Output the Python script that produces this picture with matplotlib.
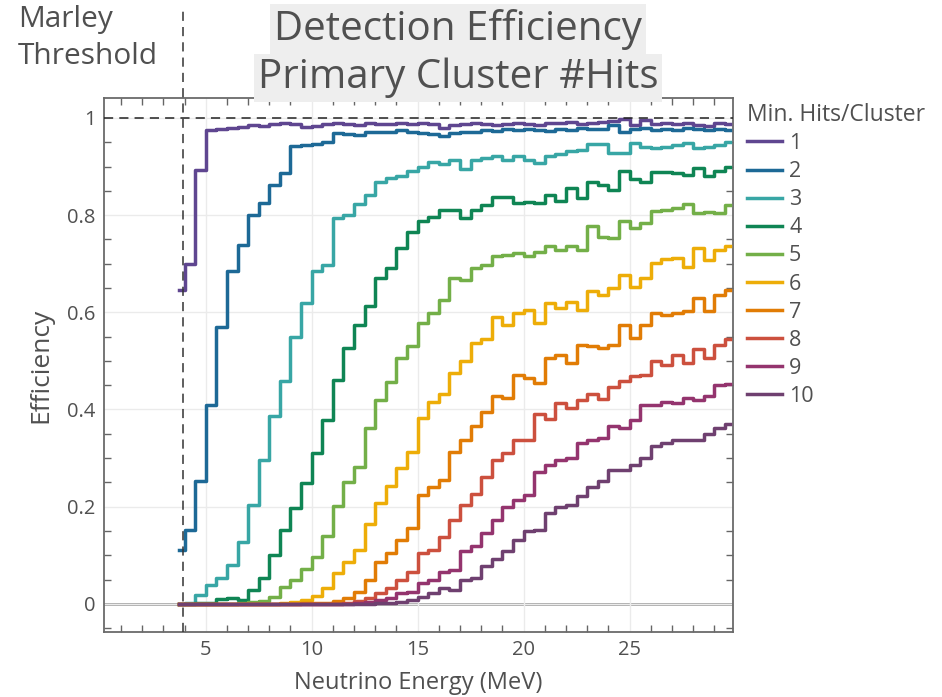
import numpy as np
import matplotlib
matplotlib.use("Agg")
import matplotlib.pyplot as plt
from matplotlib.lines import Line2D
from matplotlib.ticker import MultipleLocator

plt.rcParams['font.family'] = ['Open Sans', 'DejaVu Sans']

# bin centres (MeV), 0.5 MeV steps
energy = np.arange(3.75, 30.0, 0.5)

eff_1 = [0.645, 0.700, 0.893, 0.975, 0.977, 0.980, 0.982, 0.985, 0.983, 0.988,
         0.990, 0.987, 0.981, 0.984, 0.988, 0.990, 0.988, 0.986, 0.990, 0.987,
         0.988, 0.989, 0.987, 0.990, 0.988, 0.979, 0.986, 0.988, 0.990, 0.987,
         0.985, 0.988, 0.990, 0.988, 0.986, 0.989, 0.990, 0.991, 0.988, 0.989,
         0.991, 0.993, 0.998, 0.985, 0.996, 0.988, 0.990, 0.987, 0.990, 0.985,
         0.984, 0.990, 0.988]
eff_2 = [0.111, 0.152, 0.252, 0.410, 0.569, 0.684, 0.739, 0.801, 0.825, 0.862,
         0.886, 0.943, 0.944, 0.946, 0.950, 0.969, 0.966, 0.965, 0.972, 0.970,
         0.970, 0.975, 0.972, 0.969, 0.966, 0.963, 0.968, 0.972, 0.970, 0.975,
         0.973, 0.978, 0.975, 0.977, 0.975, 0.973, 0.978, 0.976, 0.979, 0.978,
         0.978, 0.985, 0.972, 0.978, 0.980, 0.976, 0.978, 0.975, 0.980, 0.977,
         0.975, 0.978, 0.976]
eff_3 = [0.000, 0.002, 0.018, 0.039, 0.053, 0.080, 0.128, 0.204, 0.296, 0.386,
         0.459, 0.550, 0.619, 0.684, 0.698, 0.794, 0.801, 0.823, 0.842, 0.868,
         0.876, 0.880, 0.890, 0.900, 0.910, 0.905, 0.914, 0.895, 0.914, 0.917,
         0.921, 0.914, 0.922, 0.914, 0.908, 0.921, 0.926, 0.931, 0.934, 0.946,
         0.946, 0.928, 0.927, 0.948, 0.940, 0.938, 0.941, 0.944, 0.948, 0.938,
         0.940, 0.945, 0.950]
eff_4 = [0.000, 0.000, 0.001, 0.002, 0.010, 0.011, 0.008, 0.029, 0.053, 0.101,
         0.152, 0.197, 0.248, 0.310, 0.379, 0.461, 0.526, 0.574, 0.612, 0.670,
         0.692, 0.732, 0.766, 0.787, 0.797, 0.811, 0.811, 0.794, 0.811, 0.821,
         0.838, 0.838, 0.825, 0.827, 0.825, 0.842, 0.828, 0.856, 0.835, 0.868,
         0.862, 0.852, 0.890, 0.875, 0.868, 0.889, 0.889, 0.887, 0.883, 0.897,
         0.880, 0.890, 0.898]
eff_5 = [0.000, 0.000, 0.000, 0.000, 0.000, 0.000, 0.001, 0.003, 0.005, 0.015,
         0.034, 0.048, 0.071, 0.097, 0.140, 0.202, 0.251, 0.282, 0.361, 0.420,
         0.457, 0.505, 0.531, 0.578, 0.598, 0.626, 0.670, 0.667, 0.691, 0.698,
         0.715, 0.718, 0.722, 0.716, 0.725, 0.736, 0.729, 0.736, 0.729, 0.777,
         0.755, 0.752, 0.787, 0.773, 0.784, 0.808, 0.811, 0.814, 0.823, 0.804,
         0.806, 0.805, 0.821]
eff_6 = [0.000, 0.000, 0.000, 0.000, 0.000, 0.000, 0.000, 0.000, 0.000, 0.000,
         0.001, 0.003, 0.008, 0.016, 0.032, 0.063, 0.087, 0.110, 0.165, 0.208,
         0.243, 0.279, 0.312, 0.382, 0.415, 0.432, 0.475, 0.499, 0.537, 0.544,
         0.591, 0.574, 0.598, 0.605, 0.578, 0.619, 0.609, 0.622, 0.605, 0.643,
         0.636, 0.650, 0.677, 0.653, 0.670, 0.701, 0.709, 0.711, 0.694, 0.732,
         0.708, 0.729, 0.736]
eff_7 = [0.000, 0.000, 0.000, 0.000, 0.000, 0.000, 0.000, 0.000, 0.000, 0.000,
         0.000, 0.000, 0.001, 0.001, 0.002, 0.005, 0.012, 0.025, 0.050, 0.087,
         0.104, 0.132, 0.156, 0.224, 0.241, 0.255, 0.313, 0.338, 0.365, 0.394,
         0.428, 0.423, 0.470, 0.465, 0.455, 0.506, 0.513, 0.496, 0.533, 0.530,
         0.526, 0.533, 0.574, 0.547, 0.574, 0.598, 0.595, 0.598, 0.602, 0.629,
         0.602, 0.636, 0.646]
eff_8 = [0.000, 0.000, 0.000, 0.000, 0.000, 0.000, 0.000, 0.000, 0.000, 0.000,
         0.000, 0.000, 0.000, 0.000, 0.000, 0.000, 0.002, 0.005, 0.012, 0.022,
         0.032, 0.049, 0.066, 0.104, 0.111, 0.138, 0.173, 0.204, 0.225, 0.262,
         0.295, 0.310, 0.338, 0.337, 0.390, 0.380, 0.413, 0.403, 0.420, 0.432,
         0.422, 0.446, 0.458, 0.468, 0.471, 0.499, 0.492, 0.513, 0.495, 0.525,
         0.506, 0.533, 0.546]
eff_9 = [0.000, 0.000, 0.000, 0.000, 0.000, 0.000, 0.000, 0.000, 0.000, 0.000,
         0.000, 0.000, 0.000, 0.000, 0.000, 0.000, 0.000, 0.001, 0.003, 0.008,
         0.012, 0.022, 0.025, 0.043, 0.049, 0.066, 0.070, 0.108, 0.118, 0.145,
         0.173, 0.200, 0.214, 0.224, 0.272, 0.286, 0.296, 0.300, 0.331, 0.337,
         0.341, 0.365, 0.361, 0.379, 0.410, 0.410, 0.416, 0.413, 0.423, 0.420,
         0.427, 0.451, 0.453]
eff_10 = [0.000, 0.000, 0.000, 0.000, 0.000, 0.000, 0.000, 0.000, 0.000, 0.000,
          0.000, 0.000, 0.000, 0.000, 0.000, 0.000, 0.000, 0.000, 0.000, 0.001,
          0.002, 0.004, 0.008, 0.015, 0.022, 0.032, 0.029, 0.049, 0.053, 0.077,
          0.093, 0.108, 0.132, 0.149, 0.152, 0.187, 0.200, 0.204, 0.221, 0.240,
          0.253, 0.276, 0.276, 0.286, 0.300, 0.324, 0.332, 0.337, 0.337, 0.337,
          0.350, 0.361, 0.370]

series = [eff_1, eff_2, eff_3, eff_4, eff_5, eff_6, eff_7, eff_8, eff_9, eff_10]
labels = ['1', '2', '3', '4', '5', '6', '7', '8', '9', '10']
# carto "Prism" palette
colors = ['#5F4690', '#1D6996', '#38A6A5', '#0F8554', '#73AF48',
          '#EDAD08', '#E17C05', '#CC503E', '#94346E', '#6F4070']

threshold = 3.95

fig = plt.figure(figsize=(9.42, 6.97), dpi=100)
ax = fig.add_axes([104/942, 1 - 632/697, (733-104)/942, (632-98)/697])

grey = '#505050'
ax.grid(True, which='major', color='#ebebeb', linewidth=1)
ax.axhline(0, color='#8c8c8c', linewidth=1.8, zorder=1)

for vals, lab, col in zip(series, labels, colors):
    ax.step(energy, vals, where='mid', color=col, linewidth=2.5, label=lab, zorder=3)

ax.axhline(1, color='#222222', linewidth=1.1, dashes=(6, 4), zorder=4)
ax.add_line(Line2D([threshold, threshold], [0, 1.168], color='#333333', linewidth=1.1,
                   dashes=(6, 4), transform=ax.get_xaxis_transform(), clip_on=False, zorder=4))

ax.set_xlim(0.2, 29.88)
ax.set_ylim(-0.058, 1.041)
ax.xaxis.set_major_locator(MultipleLocator(5))
ax.xaxis.set_minor_locator(MultipleLocator(1))
ax.yaxis.set_minor_locator(MultipleLocator(0.05))
ax.set_yticks([0, 0.2, 0.4, 0.6, 0.8, 1.0])
ax.set_yticklabels(['0', '0.2', '0.4', '0.6', '0.8', '1'])
ax.tick_params(which='major', length=0, labelsize=14.5, labelcolor=grey, pad=6)
ax.tick_params(which='minor', direction='in', length=5, width=1, color='#666666',
               top=True, right=True)
for s in ax.spines.values():
    s.set_color('#6a6a6a')
    s.set_linewidth(1.3)

ax.set_xlabel('Neutrino Energy (MeV)', fontsize=17, color=grey, labelpad=8)
ax.set_ylabel('Efficiency', fontsize=19, color=grey, labelpad=10)

leg = ax.legend(title='Min. Hits/Cluster', loc='upper left', bbox_to_anchor=(0.995, 1.022),
                frameon=False, fontsize=15.5, title_fontsize=16.5, handlelength=1.6,
                handletextpad=0.35, labelspacing=0.33, borderaxespad=0.4)
for t in leg.get_texts():
    t.set_color(grey)
leg.get_title().set_color(grey)
leg._legend_box.align = 'left'
leg._legend_box.sep = 4

tbox = dict(facecolor='#eeeeee', edgecolor='none', pad=3)
fig.text(458/942, 1 - 29/697, 'Detection Efficiency', fontsize=29, color=grey,
         ha='center', va='center', bbox=tbox, zorder=10)
fig.text(458/942, 1 - 78/697, 'Primary Cluster #Hits', fontsize=29, color=grey,
         ha='center', va='center', bbox=tbox, zorder=10)
fig.text(18/942, 1 - 20/697, 'Marley', fontsize=21.5, color=grey, ha='left', va='center')
fig.text(18/942, 1 - 56/697, 'Threshold', fontsize=21.5, color=grey, ha='left', va='center')

fig.savefig('out.png', dpi=100)
